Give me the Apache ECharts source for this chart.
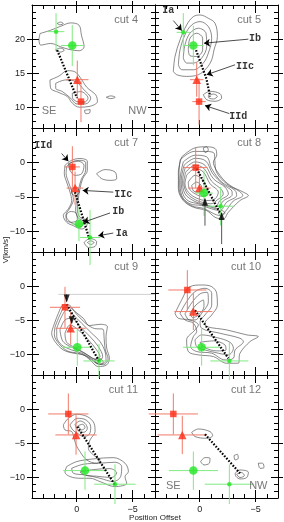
<!DOCTYPE html>
<html><head><meta charset="utf-8">
<script src="https://cdn.jsdelivr.net/npm/echarts@6/dist/echarts.min.js"></script>
<style>html,body{margin:0;padding:0;background:#fff}#c{width:284px;height:522px}</style>
</head><body><div id="c"></div>
<script>
// ---- axes / tick labels ----
const panelNames = ['cut 4','cut 5','cut 7','cut 8','cut 9','cut 10','cut 11','cut 12'];
const xRange = [-7, 4];
const xMajorTicks = [0, -5];
const yRangeTop = [7, 25];
const yRangeLower = [-13, 5];
const yMajorTop = [10, 15, 20];
const yMajorLower = [-10, -5, 0];
const xTitle = 'Position Offset';
const yTitle = 'V[km/s]';

// ---- points: [x, y, xErr, yErr], order IId (square), IIc (triangle), Ib (big dot), Ia (small dot) ----
const cut4Points  = [[-0.38,10.86,0.4,3.0],[-0.05,14.07,1.0,2.8],[0.4,19.07,1.0,3.0],[1.85,21.1,0.75,2.7]];
const cut5Points  = [[0.06,10.86,0.6,3.4],[0.27,14.07,0.6,2.5],[0.57,19.07,0.9,2.9],[1.47,21.0,0.6,2.8]];
const cut7Points  = [[0.39,-0.65,0.67,3.0],[0.15,-3.72,0.75,2.4],[-0.2,-8.94,0.7,2.5],[-1.19,-10.89,0.9,4.0]];
const cut8Points  = [[0.36,-0.75,1.05,3.0],[0.03,-3.72,1.0,2.4],[-0.38,-4.45,0.8,3.3],[-1.87,-6.35,1.2,2.8]];
const cut9Points  = [[1.05,-3.09,1.35,3.0],[0.54,-6.16,1.35,2.4],[-0.05,-8.94,1.35,2.7],[-1.99,-10.94,1.4,2.5]];
const cut10Points = [[1.11,-0.56,1.7,2.9],[0.57,-3.72,1.7,2.7],[-0.17,-8.94,1.65,2.7],[-2.65,-10.94,1.7,2.8]];
const cut11Points = [[0.75,-0.7,1.8,3.0],[0.06,-3.77,1.85,2.9],[-0.74,-8.99,1.95,2.8],[-3.42,-10.98,1.85,2.9]];
const cut12Points = [[2.36,-0.7,2.2,3.0],[1.56,-3.77,2.2,2.8],[0.57,-8.99,2.2,2.8],[-2.65,-10.98,2.2,2.9]];

// ---- dotted tracks ----
const cut4Track  = [[1.75,18.4],[-0.02,11.4]];
const cut5Track  = [[0.33,18.4],[-0.6,14.2],[-0.93,11.6]];
const cut7Track  = [[0.15,-4.31],[-1.13,-11.13]];
const cut8Track  = [[0.27,-0.9],[-1.81,-7.33]];
const cut9Track  = [[0.9,-2.65],[-1.99,-10.94]];
const cut10Track = [[0.42,-3.53],[-2.56,-10.55]];
const cut11Track = [[-0.05,-2.56],[-3.42,-11.08]];
const cut12Track = [[-0.47,-3.67],[-3.6,-9.38]];

// ---- contours (closed outlines) ----
const cut4Contours = [
 [[3.28,20.83],[2.33,21.31],[1.43,21.89],[0.54,22.38],[-0.21,22.04],[-0.42,20.58],[-0.66,18.88],[-0.21,18.30],[0.69,18.50],[1.43,18.88],[2.33,19.37],[3.22,19.13],[3.37,19.95]],
 [[1.9,18.4],[1.5,18.7],[1.1,18.4],[1.5,18.1]],
 [[1.75,22.3],[1.45,22.5],[1.2,22.3],[1.5,22.1]],
 [[2.39,14.03],[1.58,14.61],[0.84,15.39],[0.18,15.24],[-0.30,14.42],[-0.90,12.96],[-1.70,11.84],[-1.85,10.87],[-1.10,10.15],[-0.21,10.05],[0.39,10.63],[0.84,11.60],[1.58,12.18],[2.33,12.82]],
 [[1.88,13.54],[0.99,14.03],[0.09,13.79],[-0.66,12.57],[-1.25,11.36],[-0.81,10.53],[0,10.53],[0.54,11.36],[1.28,12.33],[1.88,12.82]],
 [[0.39,12.09],[-0.36,12.33],[-1.01,11.36],[-0.66,10.73],[0,10.87],[0.39,11.50]],
 [[-2.64,11.5],[-3.04,11.7],[-3.44,11.5],[-3.04,11.3]],
 [[-0.7,9.6],[-1.2,9.7],[-1.15,9.2],[-0.8,9.1]]
];
const cut5Contours = [
 [[2.36,15.28],[2.21,17.47],[1.76,19.9],[1.17,22.08],[0.57,23.3],[-0.03,23.54],[-0.77,23.06],[-1.37,22.33],[-1.58,20.38],[-1.28,18.44],[-1.07,16.98],[-0.62,15.77],[0.12,14.8],[1.17,14.55],[2.06,14.8]],
 [[1.91,16.25],[1.76,18.44],[1.32,20.63],[0.72,22.08],[-0.03,22.57],[-0.77,21.84],[-1.07,20.14],[-0.77,17.95],[-0.32,16.5],[0.57,15.52],[1.61,15.52]],
 [[1.47,17.23],[1.32,19.17],[0.87,20.87],[0.12,21.6],[-0.56,20.87],[-0.62,18.93],[-0.17,17.23],[0.57,16.5],[1.17,16.5]],
 [[1.02,18.44],[0.87,20.14],[0.27,20.87],[-0.26,20.14],[-0.26,18.44],[0.27,17.47],[0.87,17.57]],
 [[-0.32,11.88],[-0.92,12.37],[-1.81,12.03],[-1.96,11.39],[-1.37,10.91],[-0.62,11.15]],
 [[-0.77,11.73],[-1.22,11.97],[-1.58,11.63],[-1.22,11.24],[-0.83,11.39]]
];
const cut7Contours = [
 [[1.05,-0.41],[0.45,0.32],[-0.29,0.57],[-0.95,0.18],[-0.95,-1.14],[-0.53,-2.36],[-0.29,-3.82],[-0.14,-5.28],[-0.05,-6.74],[-0.29,-7.96],[-0.95,-8.45],[-0.89,-9.18],[-0.44,-9.67],[0.30,-9.18],[0.90,-8.69],[1.2,-7.72],[0.75,-6.74],[0.45,-5.53],[0.6,-4.31],[0.9,-2.85],[1.11,-1.63]],
 [[0.9,-0.6],[0.4,0.1],[-0.3,0.3],[-0.8,0],[-0.8,-1.1],[-0.4,-2.5],[-0.15,-4],[0,-5.5],[0.1,-6.8],[-0.1,-8],[-0.6,-8.6],[-0.4,-9.3],[0.3,-8.9],[0.8,-8.3],[0.95,-7.6],[0.6,-6.6],[0.3,-5.4],[0.45,-4.2],[0.75,-2.8],[0.95,-1.6]],
 [[0.75,-0.17],[-0.14,0.18],[-0.65,-0.41],[-0.44,-1.63],[0.15,-1.87],[0.6,-1.14]],
 [[0.45,-3.82],[0,-3.58],[-0.23,-4.31],[0.15,-4.8],[0.45,-4.45]],
 [[0.96,-7.72],[0.6,-7.13],[0.06,-7.33],[-0.05,-8.3],[0.45,-8.69],[0.9,-8.45]],
 [[-0.65,-11.62],[-1.19,-11.04],[-1.78,-11.52],[-1.63,-12.2],[-1.04,-12.35]],
 [[-0.95,-11.62],[-1.25,-11.38],[-1.55,-11.62],[-1.25,-11.91]],
 [[-1.78,-1.63],[-2.53,-1.04],[-3.42,-1.38],[-3.57,-2.36],[-2.98,-2.6],[-2.23,-2.36]]
];
const cut8Contours = [
 [[1.61,0.81],[0.57,2.03],[-0.47,2.27],[-1.37,2.03],[-1.52,1.05],[-1.22,0.08],[-1.81,-1.87],[-2.71,-3.33],[-3.9,-4.31],[-4.35,-4.8],[-3.6,-5.53],[-2.56,-7.23],[-2.11,-8.21],[-1.37,-7.96],[-0.62,-6.99],[0.57,-6.5],[1.47,-5.53],[1.91,-3.82],[1.91,-1.38]],
 [[1.75,0.4],[0.5,1.6],[-0.55,1.6],[-1.3,1.3],[-1.35,0.3],[-1.5,-1.4],[-2.4,-3.1],[-3.55,-4.2],[-3.85,-4.8],[-3.0,-5.6],[-2.3,-7.1],[-1.8,-7.7],[-1.2,-7.4],[-0.4,-6.7],[0.7,-6.3],[1.55,-5.2],[1.85,-3.5],[1.85,-1.6]],
 [[1.47,0.08],[0.42,1.05],[-0.62,0.81],[-1.07,-0.9],[-1.96,-2.85],[-3.16,-4.06],[-3.3,-4.8],[-2.41,-5.77],[-1.81,-6.99],[-1.07,-6.74],[-0.17,-6.26],[0.87,-6.01],[1.61,-4.8],[1.76,-2.6]],
 [[1.4,-0.4],[0.4,0.6],[-0.55,0.2],[-1.15,-1.6],[-2.1,-3.2],[-2.9,-4.3],[-2.9,-4.7],[-2.1,-5.6],[-1.6,-6.75],[-0.9,-6.45],[0.1,-6.0],[1.0,-5.6],[1.5,-4.6],[1.65,-2.6]],
 [[1.32,-0.9],[0.42,0.08],[-0.47,-0.41],[-1.22,-2.36],[-2.26,-3.58],[-2.56,-4.55],[-1.81,-5.53],[-1.37,-6.5],[-0.62,-6.16],[0.42,-5.67],[1.32,-4.55],[1.53,-2.6]],
 [[1.25,-1.4],[0.42,-0.4],[-0.4,-0.9],[-1.05,-2.7],[-1.95,-3.95],[-2.1,-4.6],[-1.6,-5.4],[-1.0,-6.0],[-0.4,-5.85],[0.35,-5.45],[1.15,-4.45],[1.42,-2.9]],
 [[1.17,-1.87],[0.42,-0.9],[-0.32,-1.38],[-0.92,-3.09],[-1.66,-4.31],[-1.37,-5.28],[-0.62,-5.53],[0.27,-5.19],[1.02,-4.31],[1.32,-3.09]],
 [[1.02,-2.85],[0.42,-1.87],[-0.17,-2.36],[-0.62,-3.58],[-0.77,-4.55],[-0.17,-4.89],[0.42,-4.55],[0.93,-3.82]],
 [[0.72,-3.33],[0.27,-2.85],[-0.17,-3.58],[-0.03,-4.31],[0.51,-4.21]],
 [[-1.66,-7.33],[-1.96,-6.99],[-2.26,-7.33],[-1.96,-7.72]],
 [[-0.32,2.12],[-0.62,2.27],[-0.77,1.78],[-0.47,1.44]]
];
const cut9Contours = [
 [[2.09,-5.92],[1.64,-3.97],[1.2,-2.75],[0.75,-2.75],[0.15,-3.72],[-0.59,-4.7],[-1.13,-5.77],[-2.08,-5.58],[-2.74,-5.92],[-2.62,-7.38],[-2.68,-9.08],[-2.92,-10.55],[-2.68,-11.52],[-1.93,-11.76],[-1.19,-10.79],[-0.59,-10.06],[0.3,-9.81],[1.2,-9.33],[1.94,-8.11],[2.24,-6.89]],
 [[1.95,-6.0],[1.5,-4.2],[1.05,-3.1],[0.55,-3.2],[-0.1,-4.3],[-0.85,-5.5],[-1.6,-6.2],[-2.35,-6.3],[-2.45,-7.6],[-2.55,-9.3],[-2.8,-10.6],[-2.4,-11.5],[-1.7,-11.2],[-0.9,-10.3],[-0.1,-9.8],[0.8,-9.5],[1.6,-8.4],[2.0,-7.1]],
 [[1.79,-6.16],[1.35,-4.45],[0.9,-3.48],[0.3,-4.21],[-0.44,-5.43],[-1.34,-6.89],[-2.08,-8.11],[-2.53,-9.57],[-2.62,-10.94],[-2.08,-11.43],[-1.34,-10.65],[-0.44,-9.81],[0.45,-9.33],[1.35,-8.6],[1.79,-7.38]],
 [[1.5,-6.4],[1.05,-4.94],[0.45,-4.7],[-0.29,-5.92],[-1.19,-7.38],[-1.93,-8.84],[-2.32,-10.3],[-1.93,-10.94],[-1.19,-10.3],[-0.29,-9.47],[0.6,-8.84],[1.26,-8.01]],
 [[1.05,-6.89],[0.6,-5.67],[-0.14,-6.4],[-1.04,-7.86],[-1.78,-9.33],[-2.08,-10.3],[-1.64,-10.65],[-0.74,-9.81],[0.15,-8.99],[0.9,-8.21]],
 [[-1.64,-10.75],[-2.08,-10.6],[-2.38,-11.13],[-2.02,-11.43],[-1.64,-11.13]]
];
const cut10Contours = [
 [[2.21,-3.97],[1.61,-1.99],[0.87,-0.07],[-0.17,0.17],[-1.07,-0.07],[-1.52,-1.04],[-1.58,-2.75],[-1.07,-4.21],[-0.47,-5.43],[-0.62,-5.92],[-2.41,-6.4],[-4.2,-7.13],[-5.24,-7.38],[-4.5,-8.11],[-3.6,-9.81],[-3.45,-11.28],[-2.41,-11.28],[-1.22,-10.3],[0.12,-10.06],[1.02,-9.57],[1.17,-7.86],[0.42,-6.4],[0.12,-5.67],[0.87,-4.94],[1.91,-4.7]],
 [[1.76,-3.97],[1.17,-2.26],[0.42,-0.8],[-0.47,-0.31],[-1.07,-1.04],[-1.07,-2.75],[-0.47,-4.21],[-0.03,-5.19],[-0.17,-6.16],[-1.81,-6.89],[-3.6,-7.62],[-3.9,-8.11],[-3.16,-9.33],[-3.01,-10.55],[-2.26,-10.79],[-1.07,-9.81],[0.27,-9.57],[0.81,-8.84],[0.57,-7.38],[0.27,-6.65],[0.57,-5.43],[1.32,-4.94]],
 [[1.32,-4.06],[0.72,-2.45],[-0.03,-1.12],[-0.68,-0.9],[-0.77,-2.26],[-0.17,-3.97],[0.42,-4.94],[0.93,-4.94]],
 [[0.42,-7.86],[-0.17,-7.13],[-1.52,-7.52],[-2.71,-8.21],[-3.01,-9.08],[-2.56,-10.06],[-1.66,-9.81],[-0.47,-9.33],[0.27,-8.84]],
 [[0.87,-3.97],[0.33,-2.75],[-0.32,-2.02],[-0.38,-3.0],[0.12,-4.21],[0.63,-4.6]],
 [[-0.03,-8.21],[-1.22,-8.01],[-2.26,-8.6],[-2.35,-9.33],[-1.52,-9.47],[-0.47,-8.99]]
];
const cut11Contours = [
 [[1.2,-2.31],[0.75,-1.34],[0.0,-0.75],[-0.95,-1.09],[-1.55,-2.07],[-1.64,-3.28],[-1.19,-4.5],[-1.04,-5.72],[-1.49,-6.7],[-2.08,-7.43],[-1.78,-7.91],[-0.89,-7.43],[-0.29,-6.21],[0.06,-5.23],[0.24,-4.26],[0.45,-3.28],[1.05,-3.04]],
 [[0.6,-2.31],[-0.05,-1.34],[-0.83,-1.58],[-1.25,-2.56],[-1.13,-3.67],[-0.59,-4.01],[-0.05,-3.52],[0.36,-3.04]],
 [[0.15,-2.21],[-0.29,-1.73],[-0.74,-2.07],[-0.95,-2.8],[-0.65,-3.38],[-0.14,-3.18]],
 [[-0.14,-2.41],[-0.53,-2.21],[-0.74,-2.7],[-0.44,-3.04]],
 [[0.9,-8.4],[0.0,-7.67],[-1.49,-7.28],[-3.27,-7.09],[-4.32,-7.91],[-4.62,-9.13],[-4.32,-9.86],[-4.47,-10.84],[-3.42,-11.33],[-2.08,-10.6],[-1.19,-10.11],[-0.29,-10.11],[0.6,-9.86],[1.05,-9.23]],
 [[0.45,-8.65],[-0.59,-8.06],[-2.08,-7.91],[-3.42,-7.77],[-4.02,-8.4],[-3.93,-9.86],[-3.27,-10.6],[-2.08,-10.11],[-0.74,-9.62],[0.3,-9.38]],
 [[-0.29,-9.18],[-1.49,-8.84],[-2.98,-8.7],[-3.57,-9.33],[-3.12,-10.01],[-1.78,-9.81],[-0.74,-9.67]]
];
const cut12Contours = [
 [[0.72,-3.38],[0.12,-2.9],[-0.92,-3.28],[-1.16,-3.87],[-0.62,-4.26],[0.42,-4.01]],
 [[-3.07,-6.79],[-3.36,-6.6],[-3.45,-7.18],[-3.16,-7.43]],
 [[-0.08,-7.67],[-0.47,-7.09],[-0.92,-7.18],[-0.86,-7.91],[-0.38,-8.16]],
 [[-3.16,-9.38],[-3.6,-8.9],[-4.35,-9.23],[-4.2,-10.01],[-3.6,-10.21],[-3.25,-9.86]],
 [[-3.3,-9.52],[-3.75,-9.28],[-3.99,-9.72],[-3.6,-10.01]],
 [[-5.24,-7.91],[-5.63,-7.91],[-5.75,-8.55],[-5.39,-8.65]]
];

// ---- annotations ----
const cut5Labels = [['Ia',2.81,24.17],['Ib',-4.94,20.14],['IIc',-4.05,16.01],['IId',-3.45,8.72]];
const cut5Arrows = [[2.36,22.72,1.61,21.26],[-4.35,20.0,-0.38,19.41],[-3.16,16.25,-0.62,14.8],[-2.65,9.11,-0.47,10.28]];
const cut7Labels = [['IId',2.99,2.51],['IIc',-4.17,-4.7],['Ib',-3.72,-7.13],['Ia',-4.02,-10.25]];
const cut7Arrows = [[1.35,1.3,0.75,0.18],[-3.27,-4.31,-0.53,-4.06],[-2.98,-7.33,-0.59,-8.69],[-3.27,-10.25,-1.93,-10.64]];
const cut4Compass  = [['SE',2.48,9.42],['NW',-5.43,9.42]];
const cut12Compass = [['SE',2.36,-11.23],['NW',-5.24,-11.23]];
// black arrow markers (cut 8 up, cut 9 down)
const cut8Pointers = [[-0.47,-5.28,-9.18],[-1.96,-7.33,-11.86]];
const cut9Pointers = [[0.9,-2.26,-1.2],[0.45,-5.43,-4.6]];
const cut9Guide = [[1.64,-1.2],[-7,-1.2]];

// ---- layout ----
const colLeft = [32, 155];
const colWidth = 123;
const rowTop = [5, 128, 252, 375];
const rowHeight = [123, 124, 123, 123];

const panels = [
  {name:panelNames[0], pts:cut4Points,  track:cut4Track,  contours:cut4Contours, compass:cut4Compass},
  {name:panelNames[1], pts:cut5Points,  track:cut5Track,  contours:cut5Contours, labels:cut5Labels, arrows:cut5Arrows},
  {name:panelNames[2], pts:cut7Points,  track:cut7Track,  contours:cut7Contours, labels:cut7Labels, arrows:cut7Arrows},
  {name:panelNames[3], pts:cut8Points,  track:cut8Track,  contours:cut8Contours, pointers:cut8Pointers, pointerDir:'up'},
  {name:panelNames[4], pts:cut9Points,  track:cut9Track,  contours:cut9Contours, pointers:cut9Pointers, pointerDir:'down', guide:cut9Guide},
  {name:panelNames[5], pts:cut10Points, track:cut10Track, contours:cut10Contours},
  {name:panelNames[6], pts:cut11Points, track:cut11Track, contours:cut11Contours},
  {name:panelNames[7], pts:cut12Points, track:cut12Track, contours:cut12Contours, compass:cut12Compass}
];

const RED = '#ff2a14', RED_ERR = '#f07a68', GREEN = '#22e622', GREEN_ERR = '#80ea80';
const markerStyles = [
  {symbol:'rect', size:6.5, color:RED},
  {symbol:'triangle', size:8.5, color:RED},
  {symbol:'circle', size:8.5, color:GREEN},
  {symbol:'circle', size:4.5, color:GREEN}
];
const fmt = v => v < 0 ? '\u2212' + Math.abs(v) : String(v);
const labelFont = {fontFamily:'Liberation Sans', fontSize:9, color:'#222'};

const grids = [], xAxes = [], yAxes = [], series = [], graphic = [];
const AX_PER = 6;

panels.forEach((p, i) => {
  const r = Math.floor(i / 2), c = i % 2;
  grids.push({left: colLeft[c], top: rowTop[r], width: colWidth, height: rowHeight[r]});
  const yr = r === 0 ? yRangeTop : yRangeLower;
  const ymaj = r === 0 ? yMajorTop : yMajorLower;
  const bottomRow = r === 3, leftCol = c === 0;
  const tickStyle = {color:'#000', width:1};
  const xBase = {type:'value', gridIndex:i, min:xRange[0], max:xRange[1], inverse:true, interval:1,
    splitLine:{show:false}, axisLine:{show:false, onZero:false}, axisLabel:{show:false}, axisTick:{show:false}};
  const yBase = {type:'value', gridIndex:i, min:yr[0], max:yr[1], interval:1,
    splitLine:{show:false}, axisLine:{show:false, onZero:false}, axisLabel:{show:false}, axisTick:{show:false}};
  ['bottom','top'].forEach(pos => {
    xAxes.push(Object.assign({}, xBase, {position:pos,
      axisLine:{show:true, onZero:false, lineStyle:{color:'#000', width:1}},
      axisTick:{show:true, inside:true, length:4, lineStyle:tickStyle}}));
    xAxes.push(Object.assign({}, xBase, {position:pos,
      axisTick:{show:true, inside:true, length:8, customValues:xMajorTicks, lineStyle:tickStyle}}));
    xAxes.push(Object.assign({}, xBase, {position:pos,
      axisTick:{show:true, inside:false, length:4, customValues:xMajorTicks, lineStyle:tickStyle},
      axisLabel:(pos === 'bottom' && bottomRow) ? Object.assign({show:true, customValues:xMajorTicks, margin:7, formatter:fmt}, labelFont) : {show:false}}));
  });
  ['left','right'].forEach(pos => {
    yAxes.push(Object.assign({}, yBase, {position:pos,
      axisLine:{show:true, onZero:false, lineStyle:{color:'#000', width:1}},
      axisTick:{show:true, inside:true, length:4, lineStyle:tickStyle}}));
    yAxes.push(Object.assign({}, yBase, {position:pos,
      axisTick:{show:true, inside:true, length:7, customValues:ymaj, lineStyle:tickStyle}}));
    yAxes.push(Object.assign({}, yBase, {position:pos,
      axisTick:{show:true, inside:false, length:5, customValues:ymaj, lineStyle:tickStyle},
      axisLabel:(pos === 'left' && leftCol) ? Object.assign({show:true, customValues:ymaj, margin:7, formatter:fmt}, labelFont) : {show:false}}));
  });

  const ax = {xAxisIndex: i * AX_PER, yAxisIndex: i * AX_PER};

  p.contours.forEach(cn => series.push(Object.assign({type:'line', data: cn.concat([cn[0]]), smooth:0.35,
    symbol:'none', silent:true, animation:false, lineStyle:{color:'#3c3c3c', width:0.6}, z:1}, ax)));

  if (p.guide) series.push(Object.assign({type:'line', data:p.guide, symbol:'none', silent:true, animation:false,
    lineStyle:{color:'#cfcfcf', width:1}, z:1}, ax));

  series.push(Object.assign({type:'custom', data:p.pts, encode:{x:0, y:1}, animation:false, silent:true, z:2,
    renderItem: (params, api) => {
      const x = api.value(0), y = api.value(1), xe = api.value(2), ye = api.value(3);
      const col = params.dataIndex < 2 ? RED_ERR : GREEN_ERR;
      const l = api.coord([x - xe, y]), rr = api.coord([x + xe, y]);
      const t = api.coord([x, y + ye]), b = api.coord([x, y - ye]);
      return {type:'group', children:[
        {type:'line', shape:{x1:l[0], y1:l[1], x2:rr[0], y2:rr[1]}, style:{stroke:col, lineWidth:1}},
        {type:'line', shape:{x1:t[0], y1:t[1], x2:b[0], y2:b[1]}, style:{stroke:col, lineWidth:1}}
      ]};
    }}, ax));

  series.push(Object.assign({type:'line', data:p.track, symbol:'none', silent:true, animation:false,
    lineStyle:{color:'#000', width:2.2, type:[1.6,1.6]}, z:3}, ax));

  markerStyles.forEach((m, k) => series.push(Object.assign({type:'scatter', data:[p.pts[k].slice(0,2)],
    symbol:m.symbol, symbolSize:m.size, itemStyle:{color:m.color}, silent:true, animation:false, z:4}, ax)));

  if (p.pointers) {
    p.pointers.forEach(pt => series.push(Object.assign({type:'line', data:[[pt[0], pt[1]], [pt[0], pt[2]]], symbol:'none',
      silent:true, animation:false, lineStyle:{color:'#555', width:1}, z:3}, ax)));
    series.push(Object.assign({type:'scatter', data:p.pointers.map(pt => [pt[0], pt[1]]), symbol:'triangle',
      symbolSize:[6,8], symbolRotate: p.pointerDir === 'down' ? 180 : 0,
      symbolOffset:[0, p.pointerDir === 'down' ? -3 : 3],
      itemStyle:{color:'#000'}, silent:true, animation:false, z:5}, ax));
  }

  if (p.arrows) series.push(Object.assign({type:'lines', coordinateSystem:'cartesian2d', silent:true, animation:false,
    data:p.arrows.map(a => ({coords:[[a[0], a[1]], [a[2], a[3]]]})),
    symbol:['none','arrow'], symbolSize:6, lineStyle:{color:'#000', width:0.7, opacity:1}, z:5}, ax));

  if (p.labels) series.push(Object.assign({type:'scatter', data:p.labels.map(l => ({value:[l[1], l[2]], name:l[0]})),
    symbolSize:0, silent:true, animation:false, z:6,
    label:{show:true, position:'inside', formatter: d => d.name, fontFamily:'Liberation Mono', fontWeight:'bold', fontSize:10, color:'#000'}}, ax));

  if (p.compass) series.push(Object.assign({type:'scatter', data:p.compass.map(l => ({value:[l[1], l[2]], name:l[0]})),
    symbolSize:0, silent:true, animation:false, z:6,
    label:{show:true, position:'inside', formatter: d => d.name, fontFamily:'Liberation Sans', fontSize:11, color:'#555'}}, ax));

  graphic.push({type:'text', x: colLeft[c] + 106, y: rowTop[r] + 15, silent:true,
    style:{text:p.name, font:'11px "Liberation Sans"', fill:'#777', align:'right', verticalAlign:'middle'}});
});

graphic.push({type:'text', x:155, y:518, silent:true,
  style:{text:xTitle, font:'8px "Liberation Sans"', fill:'#222', align:'center', verticalAlign:'middle'}});
graphic.push({type:'text', x:6, y:250, rotation:Math.PI/2, silent:true,
  style:{text:yTitle, font:'8px "Liberation Sans"', fill:'#222', align:'center', verticalAlign:'middle'}});

const chart = echarts.init(document.getElementById('c'), null, {renderer:'canvas'});
chart.setOption({animation:false, backgroundColor:'#fff', grid:grids, xAxis:xAxes, yAxis:yAxes, series:series, graphic:graphic});
</script></body></html>
